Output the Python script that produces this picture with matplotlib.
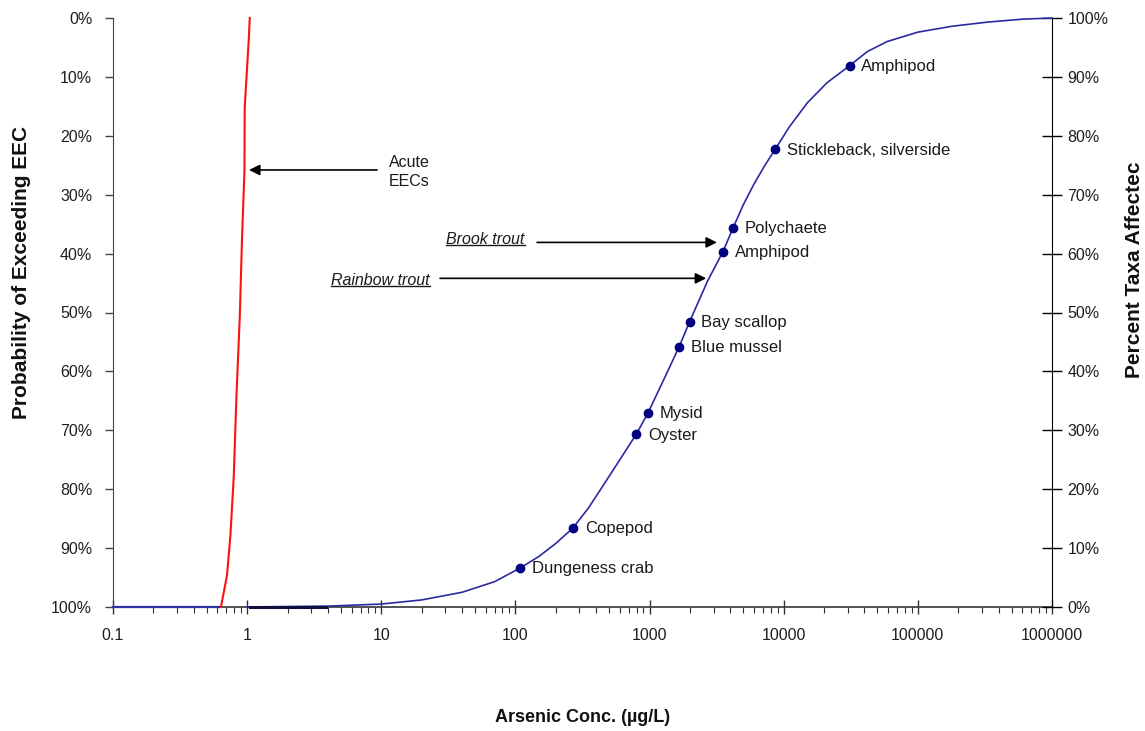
import matplotlib
matplotlib.use("Agg")
import matplotlib.pyplot as plt
from matplotlib.ticker import FixedLocator, LogLocator, NullFormatter, FixedFormatter
from matplotlib.lines import Line2D

plt.rcParams['font.family'] = ['Liberation Sans', 'DejaVu Sans']

# ---------------- data ----------------
x_ticks = [0.1, 1, 10, 100, 1000, 10000, 100000, 1000000]
x_tick_labels = ['0.1', '1', '10', '100', '1000', '10000', '100000', '1000000']
pct_ticks = [0, 10, 20, 30, 40, 50, 60, 70, 80, 90, 100]
pct_labels = ['0%', '10%', '20%', '30%', '40%', '50%', '60%', '70%', '80%', '90%', '100%']

# Acute EEC exceedance curve (left axis, probability of exceeding)
red_conc = [0.638, 0.708, 0.750, 0.795, 0.832, 0.881, 0.916, 0.955, 0.959, 1.028, 1.046]
red_prob = [100, 94.6, 87.9, 77.8, 64.3, 50.8, 37.4, 25.9, 15.2, 3.7, 0]
base_conc = [0.1, 0.638]
base_prob = [100, 100]

# Species sensitivity distribution curve (right axis, percent taxa affected)
ssd_conc = [1, 4, 10, 20, 40, 70, 108, 150, 200, 268, 350, 450, 600, 794, 971, 1300,
            1662, 1985, 2700, 3520, 4180, 5000, 6000, 7200, 8640, 11000, 15000, 21000,
            30970, 42000, 59000, 100000, 180000, 330000, 600000, 1000000]
ssd_pct = [0, 0.15, 0.5, 1.2, 2.5, 4.3, 6.6, 8.6, 10.8, 13.4, 16.8, 20.6, 25.0, 29.3,
           32.9, 39.0, 44.2, 48.4, 55.3, 60.3, 64.3, 68.3, 71.8, 74.9, 77.7, 81.5,
           85.6, 89.0, 91.9, 94.3, 96.0, 97.6, 98.6, 99.3, 99.8, 100]
low_conc = [1.05, 3.9]
low_pct = [0, 0]

species = ['Dungeness crab', 'Copepod', 'Oyster', 'Mysid', 'Blue mussel', 'Bay scallop',
           'Amphipod', 'Polychaete', 'Stickleback, silverside', 'Amphipod']
species_conc = [108, 268, 794, 971, 1662, 1985, 3520, 4180, 8640, 30970]
species_pct = [6.6, 13.4, 29.3, 32.9, 44.2, 48.4, 60.3, 64.3, 77.7, 91.9]

# ---------------- figure ----------------
W, H = 1145, 731
fig = plt.figure(figsize=(W / 100, H / 100), dpi=100)
fig.patch.set_facecolor('white')
ax = fig.add_axes([113 / W, 1 - 607 / H, 939 / W, 589 / H])
ax2 = ax.twinx()

ax.set_xscale('log')
ax.set_xlim(0.1, 1e6)
ax.set_ylim(100, 0)
ax2.set_ylim(0, 100)

ax.xaxis.set_major_locator(FixedLocator(x_ticks))
ax.xaxis.set_major_formatter(FixedFormatter(x_tick_labels))
ax.xaxis.set_minor_locator(LogLocator(base=10, subs=range(2, 10), numticks=50))
ax.xaxis.set_minor_formatter(NullFormatter())

ax.set_yticks(pct_ticks)
ax.set_yticklabels(pct_labels)
ax2.set_yticks(pct_ticks)
ax2.set_yticklabels(pct_labels)

tick_col = '#1e1e1e'
ax.tick_params(axis='x', which='major', direction='inout', length=10, width=1,
               color='#333333', labelsize=11.5, labelcolor=tick_col, pad=10)
ax.tick_params(axis='x', which='minor', direction='out', length=4, width=0.8,
               color='#333333')
ax.tick_params(axis='y', which='major', direction='out', length=6, width=1,
               color='#444444', labelsize=11.5, labelcolor=tick_col, pad=9)
ax2.tick_params(axis='y', which='major', direction='inout', length=14, width=1,
                color='black', labelsize=11.5, labelcolor=tick_col, pad=4)

ax.spines['top'].set_visible(False)
ax2.spines['top'].set_visible(False)
ax.spines['right'].set_visible(False)
ax2.spines['left'].set_visible(False)
ax2.spines['bottom'].set_visible(False)
ax.spines['left'].set_color('#444444')
ax.spines['bottom'].set_color('#444444')
ax.spines['bottom'].set_linewidth(1.3)
ax2.spines['right'].set_color('black')
ax.patch.set_visible(False)

# curves
ax.plot(base_conc, base_prob, color='#3030a0', lw=1.6, clip_on=False, zorder=3)
ax.plot(red_conc, red_prob, color='#ff1010', lw=1.5, clip_on=False, zorder=4)
ax2.plot(ssd_conc, ssd_pct, color='#2a2aa0', lw=1.2, clip_on=False, zorder=3)
ax2.plot(low_conc, low_pct, color='#101040', lw=2.2, clip_on=False, zorder=4)
ax2.plot(species_conc, species_pct, 'o', color='#000080', ms=6, zorder=5)

for name, c, p in zip(species, species_conc, species_pct):
    ax2.annotate(name, (c, p), xytext=(8.5, -0.5), textcoords='offset points',
                 ha='left', va='center', fontsize=12, color='#1a1a1a')

# annotations with arrows (left-axis coordinates)
arrow_kw = dict(arrowstyle='-|>', color='black', lw=1.2, mutation_scale=16,
                shrinkA=0, shrinkB=0)
ax.annotate('', xy=(1.033, 25.8), xytext=(9.3, 25.8), arrowprops=arrow_kw)
ax.annotate('', xy=(3177, 38.1), xytext=(145, 38.1), arrowprops=arrow_kw)
ax.annotate('', xy=(2642, 44.2), xytext=(27.4, 44.2), arrowprops=arrow_kw)

ax.text(11.4, 26.1, 'Acute\nEECs', ha='left', va='center', fontsize=11.5,
        linespacing=1.3, color='#1a1a1a')
t_brook = ax.text(60, 37.6, 'Brook trout', ha='center', va='center', fontsize=11.5,
                  style='italic', color='#1a1a1a')
t_rain = ax.text(9.88, 44.6, 'Rainbow trout', ha='center', va='center', fontsize=11.5,
                 style='italic', color='#1a1a1a')

# axis labels
fig.text(583 / W, 1 - 718 / H, 'Arsenic Conc. (µg/L)', ha='center', va='center',
         fontsize=13, fontweight='bold', color='#111111')
fig.text(22 / W, 1 - 272 / H, 'Probability of Exceeding EEC', ha='center', va='center',
         rotation=90, fontsize=15, fontweight='bold', color='#111111')
fig.text(1135 / W, 1 - 270 / H, 'Percent Taxa Affectec', ha='center', va='center',
         rotation=90, fontsize=15, fontweight='bold', color='#111111')

# underline the italic labels
fig.canvas.draw()
renderer = fig.canvas.get_renderer()
inv = fig.transFigure.inverted()
for t in (t_brook, t_rain):
    bb = t.get_window_extent(renderer)
    (x0, y0), (x1, _) = inv.transform([(bb.x0, bb.y0 + 2), (bb.x1, bb.y0 + 2)])
    fig.add_artist(Line2D([x0, x1], [y0, y0], transform=fig.transFigure,
                          color='#1a1a1a', lw=1.0))

fig.savefig('out.png', dpi=100, facecolor='white')
